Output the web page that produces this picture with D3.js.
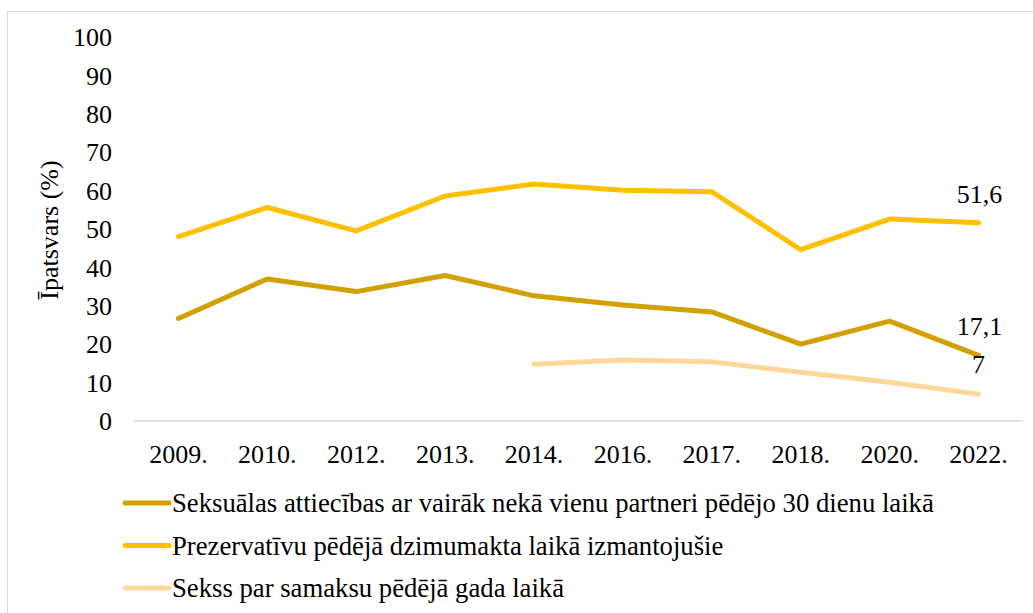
<!DOCTYPE html>
<html>
<head>
<meta charset="utf-8">
<script src="https://cdn.jsdelivr.net/npm/d3@7"></script>
<style>
  body { margin: 0; background: #fff; }
</style>
</head>
<body>
<svg id="chart"></svg>
<script>
var years = ["2009.", "2010.", "2012.", "2013.", "2014.", "2016.", "2017.", "2018.", "2020.", "2022."];
var partneri = [26.7, 37, 33.7, 37.9, 32.6, 30.2, 28.4, 20, 26, 17.1];
var prezervativi = [48, 55.6, 49.5, 58.6, 61.7, 60.1, 59.7, 44.6, 52.6, 51.6];
var samaksa = [null, null, null, null, 14.8, 15.9, 15.4, 12.7, 10.1, 7];
var yTicks = [0, 10, 20, 30, 40, 50, 60, 70, 80, 90, 100];

var names = [
  "Seksuālas attiecības ar vairāk nekā vienu partneri pēdējo 30 dienu laikā",
  "Prezervatīvu pēdējā dzimumakta laikā izmantojušie",
  "Sekss par samaksu pēdējā gada laikā"
];
var colors = ["#D2A000", "#FFC000", "#FFD899"];
var lastLabels = ["17,1", "51,6", "7"];

var width = 1033,
    height = 613,
    font = "'Liberation Serif', 'Times New Roman', Times, serif";

var svg = d3.select("#chart")
    .attr("width", width)
    .attr("height", height)
    .attr("font-family", font)
    .attr("font-size", 26);

// outer frame
svg.append("rect")
    .attr("x", 7.5).attr("y", 11.5)
    .attr("width", 1040).attr("height", 620)
    .attr("fill", "none")
    .attr("stroke", "#d9d9d9")
    .attr("stroke-width", 1);

var x = d3.scaleBand()
    .domain(years)
    .range([134, 1023]);

var y = d3.scaleLinear()
    .domain([0, 100])
    .range([421, 37]);

// x axis line
svg.append("line")
    .attr("x1", 134).attr("x2", 1023)
    .attr("y1", y(0)).attr("y2", y(0))
    .attr("stroke", "#d9d9d9")
    .attr("stroke-width", 1.3);

// y tick labels
svg.selectAll(".ytick")
    .data(yTicks)
    .enter().append("text")
    .attr("class", "ytick")
    .attr("x", 112)
    .attr("y", function(d) { return y(d); })
    .attr("dy", "0.35em")
    .attr("text-anchor", "end")
    .text(function(d) { return d; });

// x tick labels
svg.selectAll(".xtick")
    .data(years)
    .enter().append("text")
    .attr("class", "xtick")
    .attr("x", function(d) { return x(d) + x.bandwidth() / 2; })
    .attr("y", 463)
    .attr("text-anchor", "middle")
    .text(function(d) { return d; });

// y title
svg.append("text")
    .attr("transform", "translate(58,230) rotate(-90)")
    .attr("text-anchor", "middle")
    .text("Īpatsvars (%)");

var line = d3.line()
    .defined(function(d) { return d != null; })
    .x(function(d, i) { return x(years[i]) + x.bandwidth() / 2; })
    .y(function(d) { return y(d); });

var series = [partneri, prezervativi, samaksa];

series.forEach(function(s, k) {
    svg.append("path")
        .datum(s)
        .attr("fill", "none")
        .attr("stroke", colors[k])
        .attr("stroke-width", 5)
        .attr("stroke-linecap", "round")
        .attr("stroke-linejoin", "round")
        .attr("d", line);
});

// end labels
var lastX = x(years[years.length - 1]) + x.bandwidth() / 2;
svg.append("text")
    .attr("x", lastX + 1).attr("y", y(prezervativi[9]) - 20)
    .attr("text-anchor", "middle")
    .text(lastLabels[1]);
svg.append("text")
    .attr("x", lastX + 1).attr("y", y(partneri[9]) - 20)
    .attr("text-anchor", "middle")
    .text(lastLabels[0]);
svg.append("text")
    .attr("x", lastX).attr("y", y(samaksa[9]) - 21)
    .attr("text-anchor", "middle")
    .text(lastLabels[2]);

// legend
var legend = svg.selectAll(".leg")
    .data(names)
    .enter().append("g")
    .attr("class", "leg")
    .attr("transform", function(d, i) { return "translate(123," + (503 + i * 42.5) + ")"; });

legend.append("line")
    .attr("x1", 2).attr("x2", 46)
    .attr("stroke", function(d, i) { return colors[i]; })
    .attr("stroke-width", 5)
    .attr("stroke-linecap", "round");

legend.append("text")
    .attr("x", 49)
    .attr("y", 9)
    .attr("font-size", 26.7)
    .text(function(d) { return d; });
</script>
</body>
</html>
